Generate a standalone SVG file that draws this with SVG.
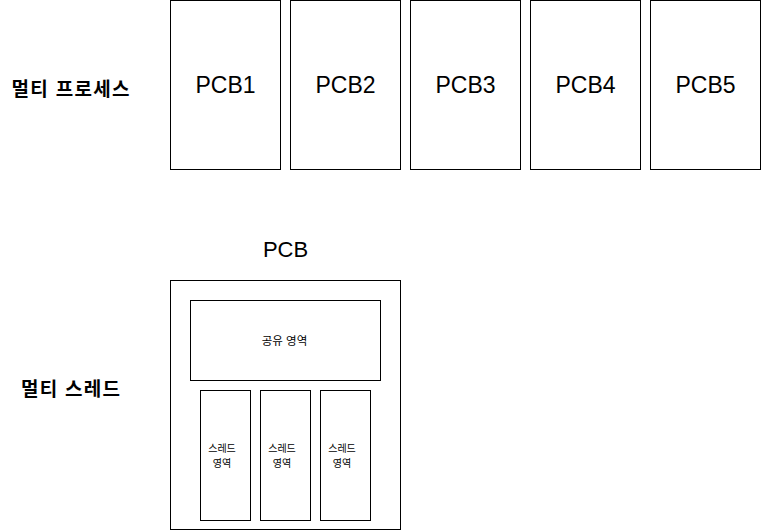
<svg xmlns="http://www.w3.org/2000/svg" width="761" height="531" viewBox="0 0 761 531">
<style>
.box{fill:#fff;stroke:#000;stroke-width:1}
text{font-family:"Liberation Sans","Noto Sans CJK KR",sans-serif;fill:#000;text-anchor:middle}
.big{font-size:23px}
.lbl{font-size:19px;font-weight:bold}
.sm{font-size:10px}
</style>
<rect width="761" height="531" fill="#fff"/>
<g id="label-multiprocess"><text class="lbl" x="70.5" y="96" textLength="118" lengthAdjust="spacing">멀티 프로세스</text></g>
<g id="pcb1"><rect class="box" x="170.5" y="0.5" width="110" height="169"/><text class="big" x="225.5" y="93">PCB1</text></g>
<g id="pcb2"><rect class="box" x="290.5" y="0.5" width="110" height="169"/><text class="big" x="345.5" y="93">PCB2</text></g>
<g id="pcb3"><rect class="box" x="410.5" y="0.5" width="110" height="169"/><text class="big" x="465.5" y="93">PCB3</text></g>
<g id="pcb4"><rect class="box" x="530.5" y="0.5" width="110" height="169"/><text class="big" x="585.5" y="93">PCB4</text></g>
<g id="pcb5"><rect class="box" x="650.5" y="0.5" width="110" height="169"/><text class="big" x="705.5" y="93">PCB5</text></g>
<g id="label-multithread"><text class="lbl" x="70.5" y="396" textLength="99" lengthAdjust="spacing">멀티 스레드</text></g>
<g id="pcb"><text class="big" x="285.5" y="257" style="font-size:22px">PCB</text><rect class="box" x="170.5" y="280.5" width="230" height="249"/></g>
<g id="shared"><rect class="box" x="190.5" y="300.5" width="190" height="80"/><text class="sm" x="284.5" y="345" style="font-size:11.5px">공유 영역</text></g>
<g id="thread1"><rect class="box" x="200.5" y="390.5" width="50" height="130"/><text class="sm" x="222" y="451.5">스레드</text><text class="sm" x="222" y="466.5">영역</text></g>
<g id="thread2"><rect class="box" x="260.5" y="390.5" width="50" height="130"/><text class="sm" x="282" y="451.5">스레드</text><text class="sm" x="282" y="466.5">영역</text></g>
<g id="thread3"><rect class="box" x="320.5" y="390.5" width="50" height="130"/><text class="sm" x="342" y="451.5">스레드</text><text class="sm" x="342" y="466.5">영역</text></g>
<g id="connectors"></g>
</svg>
